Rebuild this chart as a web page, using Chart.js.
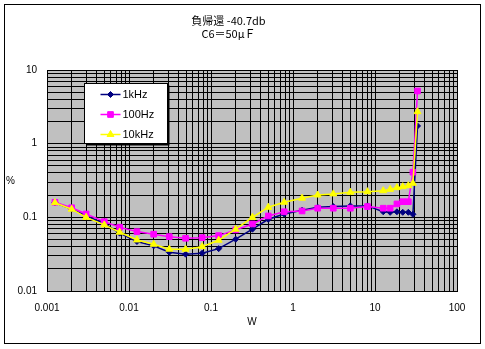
<!DOCTYPE html>
<html>
<head>
<meta charset="utf-8">
<script src="https://cdn.jsdelivr.net/npm/chart.js@4/dist/chart.umd.min.js"></script>
<style>
  html, body { margin: 0; padding: 0; background: #fff; }
  #wrap { width: 485px; height: 349px; }
</style>
</head>
<body>
<div id="wrap"><canvas id="c" width="485" height="349"></canvas></div>
<script>
// Output power (W) at each measurement point
const powerW = [0.00125, 0.002, 0.003, 0.005, 0.0077, 0.0125, 0.02, 0.031, 0.049, 0.078,
                0.124, 0.2, 0.32, 0.5, 0.78, 1.29, 2, 3.1, 5, 8.1,
                12.6, 15.3, 18.5, 21.8, 25.5, 29, 33];

// Distortion (%) per test frequency
const thd1k   = [0.158, 0.13, 0.105, 0.082, 0.061, 0.047, 0.041, 0.0336, 0.0316, 0.0326,
                 0.0376, 0.0505, 0.069, 0.0942, 0.111, 0.125, 0.137, 0.140, 0.143, 0.143,
                 0.119, 0.117, 0.119, 0.117, 0.117, 0.110, 1.74];
const thd100  = [0.16, 0.135, 0.111, 0.0874, 0.0734, 0.064, 0.059, 0.0547, 0.052, 0.053,
                 0.0565, 0.0675, 0.0813, 0.1045, 0.119, 0.122, 0.133, 0.133, 0.133, 0.140,
                 0.133, 0.133, 0.152, 0.163, 0.163, 0.41, 5.19];
const thd10k  = [0.158, 0.129, 0.100, 0.0789, 0.0628, 0.0493, 0.0431, 0.0369, 0.0369, 0.040,
                 0.0489, 0.069, 0.100, 0.137, 0.160, 0.182, 0.201, 0.208, 0.219, 0.223,
                 0.23, 0.240, 0.253, 0.261, 0.269, 0.29, 2.72];

const seriesNames = ['1kHz', '100Hz', '10kHz'];
const xTickLabels = ['0.001', '0.01', '0.1', '1', '10', '100'];
const yTickLabels = ['0.01', '0.1', '1', '10'];
const titleLines  = ['負帰還 -40.7db', 'C6＝50μＦ'];
const xTitle = 'W';
const yTitle = '%';

const FONT = '"Liberation Sans", Arial, sans-serif';
const JFONT = '"Noto Sans CJK JP", "Liberation Sans", sans-serif';

// 1..9 x 10^k ticks across the label decades
function logTicks(labels) {
  const lo = Math.round(Math.log10(+labels[0]));
  const hi = Math.round(Math.log10(+labels[labels.length - 1]));
  const out = [];
  for (let e = lo; e < hi; e++) {
    for (let m = 1; m <= 9; m++) out.push(+(m * Math.pow(10, e)).toPrecision(6));
  }
  out.push(Math.pow(10, hi));
  return out;
}
function decadeLabel(labels, value) {
  const s = labels.find(l => Math.abs(Math.log10(+l) - Math.log10(value)) < 1e-6);
  return s === undefined ? '' : s;
}

function pts(ys) { return powerW.map((x, i) => ({ x, y: ys[i] })); }

const styles = [
  { color: '#000080', point: 'rectRot',  radius: 3 },
  { color: '#FF00FF', point: 'rect',     radius: 4 },
  { color: '#FFFF00', point: 'triangle', radius: 4 }
];
const seriesData = [thd1k, thd100, thd10k];

const datasets = seriesData.map((ys, i) => ({
  label: seriesNames[i],
  data: pts(ys),
  borderColor: styles[i].color,
  backgroundColor: styles[i].color,
  borderWidth: 1.5,
  pointStyle: styles[i].point,
  pointRadius: styles[i].radius,
  pointBorderWidth: 1,
  pointBorderColor: styles[i].color,
  pointBackgroundColor: styles[i].color,
  showLine: true,
  tension: 0,
  order: 2 - i
}));

function drawMarker(ctx, style, x, y, r, color) {
  ctx.save();
  ctx.fillStyle = color;
  ctx.strokeStyle = color;
  ctx.lineWidth = 1;
  ctx.beginPath();
  if (style === 'rectRot') {
    ctx.moveTo(x, y - r); ctx.lineTo(x + r, y); ctx.lineTo(x, y + r); ctx.lineTo(x - r, y);
  } else if (style === 'rect') {
    const s = r * Math.SQRT1_2;
    ctx.rect(x - s, y - s, 2 * s, 2 * s);
  } else {
    ctx.moveTo(x, y - r);
    ctx.lineTo(x + r * 0.866, y + r / 2);
    ctx.lineTo(x - r * 0.866, y + r / 2);
  }
  ctx.closePath();
  ctx.fill();
  ctx.stroke();
  ctx.restore();
}

const framePlugin = {
  id: 'frame',
  beforeDraw(chart) {
    const { ctx, chartArea: a } = chart;
    ctx.save();
    ctx.fillStyle = '#fff';
    ctx.fillRect(0, 0, chart.width, chart.height);
    ctx.strokeStyle = '#000';
    ctx.lineWidth = 1;
    ctx.strokeRect(4.5, 4.5, chart.width - 9, chart.height - 10);
    ctx.fillStyle = '#C0C0C0';
    ctx.fillRect(a.left, a.top, a.right - a.left, a.bottom - a.top);
    ctx.restore();
  },
  afterDraw(chart) {
    const { ctx, chartArea: a } = chart;
    ctx.save();
    // unrotated value-axis caption
    ctx.fillStyle = '#000';
    ctx.font = '10px ' + FONT;
    ctx.textAlign = 'left';
    ctx.textBaseline = 'middle';
    ctx.fillText(yTitle, a.left - 41, (a.top + a.bottom) / 2 + 1);

    // legend box with drop shadow
    const bx = Math.round(a.left + 37) + 0.5, by = Math.round(a.top + 13) + 0.5;
    const bw = 83, bh = 60;
    ctx.fillStyle = '#000';
    ctx.fillRect(bx + 2, by + 2, bw, bh);
    ctx.fillStyle = '#fff';
    ctx.fillRect(bx, by, bw, bh);
    ctx.strokeStyle = '#000';
    ctx.lineWidth = 1;
    ctx.strokeRect(bx, by, bw, bh);
    chart.data.datasets.forEach((ds, i) => {
      const cy = by + 11 + i * 20;
      const lx = bx + 16;
      ctx.strokeStyle = ds.borderColor;
      ctx.lineWidth = 1.5;
      ctx.beginPath();
      ctx.moveTo(lx, cy); ctx.lineTo(lx + 20, cy);
      ctx.stroke();
      drawMarker(ctx, ds.pointStyle, lx + 10, cy, ds.pointRadius, ds.borderColor);
      ctx.fillStyle = '#000';
      ctx.font = '11px ' + FONT;
      ctx.textAlign = 'left';
      ctx.textBaseline = 'middle';
      ctx.fillText(ds.label, lx + 22, cy);
    });
    ctx.restore();
  }
};

new Chart(document.getElementById('c'), {
  type: 'scatter',
  data: { datasets },
  options: {
    responsive: false,
    animation: false,
    devicePixelRatio: 1,
    layout: { padding: { top: 14, left: 0, right: 28, bottom: 0 } },
    plugins: {
      legend: { display: false },
      tooltip: { enabled: false },
      title: {
        display: true,
        text: titleLines,
        color: '#000',
        font: { family: JFONT, size: 11, weight: 'normal', lineHeight: 1.2 },
        padding: { top: 0, bottom: 29.6 }
      }
    },
    scales: {
      x: {
        type: 'logarithmic',
        min: +xTickLabels[0],
        max: +xTickLabels[xTickLabels.length - 1],
        afterBuildTicks: s => { s.ticks = logTicks(xTickLabels).map(v => ({ value: v })); },
        afterFit: s => { s.height = 58; },
        ticks: {
          autoSkip: false,
          maxRotation: 0,
          padding: 11,
          color: '#000',
          font: { family: FONT, size: 10 },
          callback: v => decadeLabel(xTickLabels, v)
        },
        grid: { color: '#000', lineWidth: 1, drawTicks: false },
        border: { color: '#000', width: 1 },
        title: {
          display: true, text: xTitle, color: '#000',
          font: { family: FONT, size: 10 },
          padding: { top: 0, bottom: 21 }
        }
      },
      y: {
        type: 'logarithmic',
        min: +yTickLabels[0],
        max: +yTickLabels[yTickLabels.length - 1],
        afterBuildTicks: s => { s.ticks = logTicks(yTickLabels).map(v => ({ value: v })); },
        afterFit: s => { s.width = 47; },
        ticks: {
          autoSkip: false,
          padding: 10,
          color: '#000',
          font: { family: FONT, size: 10 },
          callback: v => decadeLabel(yTickLabels, v)
        },
        grid: { color: '#000', lineWidth: 1, drawTicks: false },
        border: { color: '#000', width: 1 }
      }
    }
  },
  plugins: [framePlugin]
});
</script>
</body>
</html>
